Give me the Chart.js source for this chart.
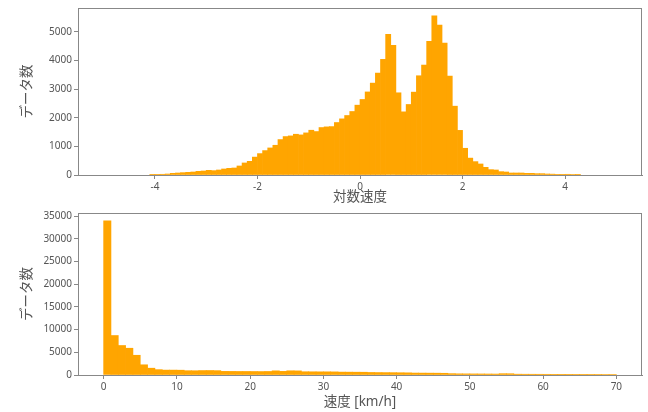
<!DOCTYPE html>
<html>
<head>
<meta charset="utf-8">
<script src="https://cdn.jsdelivr.net/npm/chart.js@4"></script>
<style>
  html, body { margin: 0; padding: 0; background: #fff; }
  #wrap { position: relative; width: 648px; height: 412px; }
  canvas { position: absolute; left: 0; }
</style>
</head>
<body>
<div id="wrap">
  <canvas id="logChart" width="648" height="205" style="top:0"></canvas>
  <canvas id="speedChart" width="648" height="207" style="top:205px"></canvas>
</div>
<script>
// 対数速度ヒストグラム (bin width 0.1, first bin starts at -4.1)
const logBinStart = -4.1;
const logBinWidth = 0.1;
const logCounts = [
  5, 23, 25, 35, 58, 70, 82, 93, 105, 128,
  140, 163, 152, 175, 210, 233, 245, 315, 420, 478,
  625, 747, 852, 945, 1038, 1237, 1342, 1365, 1423, 1400,
  1470, 1563, 1517, 1657, 1680, 1690, 1832, 1960, 2077, 2217,
  2438, 2637, 2900, 3208, 3558, 4037, 4912, 4527, 2870, 2205,
  2462, 2893, 3465, 3838, 4667, 5553, 5238, 4608, 3453, 2403,
  1558, 933, 590, 467, 385, 268, 187, 175, 117, 105,
  70, 70, 70, 58, 58, 47, 47, 35, 30, 12,
  10, 25, 20, 3
];
const logTicksX = [-4, -2, 0, 2, 4];
const logTicksY = [0, 1000, 2000, 3000, 4000, 5000];

// 速度ヒストグラム [km/h] (bin width 1, from 0)
const speedBinStart = 0;
const speedBinWidth = 1;
const speedCounts = [
  34000, 8700, 6500, 5900, 4350, 2250, 1500, 1180, 1080, 1080,
  1060, 950, 940, 980, 990, 960, 800, 790, 780, 780,
  770, 760, 780, 920, 800, 930, 910, 720, 710, 700,
  700, 690, 640, 630, 620, 610, 560, 540, 530, 520,
  500, 480, 430, 420, 410, 400, 380, 300, 260, 250,
  240, 230, 220, 210, 290, 280, 180, 170, 165, 160,
  155, 150, 150, 145, 140, 140, 135, 130, 120, 100
];
const speedTicksX = [0, 10, 20, 30, 40, 50, 60, 70];
const speedTicksY = [0, 5000, 10000, 15000, 20000, 25000, 30000, 35000];

const BAR = '#FFA500';
const SPINE = '#888';
const TEXT = '#555';
const FONT = '"Noto Sans", "Noto Sans CJK JP", sans-serif';

function toPoints(start, width, counts) {
  return counts.map((c, i) => ({ x: +(start + (i + 0.5) * width).toFixed(4), y: c }));
}

const framePlugin = {
  id: 'frame',
  afterDraw(chart) {
    const { ctx, chartArea: a } = chart;
    ctx.save();
    ctx.strokeStyle = SPINE;
    ctx.lineWidth = 1;
    ctx.strokeRect(Math.round(a.left) + 0.5, Math.round(a.top) + 0.5,
      Math.round(a.right - a.left) - 1, Math.round(a.bottom - a.top));
    ctx.restore();
  }
};

function makeHist(id, points, opt) {
  return new Chart(document.getElementById(id), {
    type: 'bar',
    data: {
      datasets: [{
        data: points,
        backgroundColor: BAR,
        borderWidth: 0,
        barPercentage: 1,
        categoryPercentage: 1
      }]
    },
    options: {
      responsive: false,
      animation: false,
      layout: { padding: opt.padding },
      plugins: { legend: { display: false }, tooltip: { enabled: false } },
      scales: {
        x: {
          type: 'linear',
          min: opt.xMin, max: opt.xMax,
          offset: false,
          afterFit: s => { s.height = opt.xHeight; },
          afterBuildTicks: s => { s.ticks = opt.xTicks.map(v => ({ value: v })); },
          grid: { display: true, drawOnChartArea: false, offset: false, color: SPINE, tickLength: 4 },
          border: { color: SPINE },
          ticks: { color: TEXT, padding: 2, maxRotation: 0, autoSkip: false,
                   callback: v => String(v),
                   font: { family: FONT, size: 10 } },
          title: { display: true, text: opt.xTitle, color: TEXT,
                   padding: { top: 0, bottom: opt.xTitlePad },
                   font: { family: FONT, size: 13.5 } }
        },
        y: {
          min: 0, max: opt.yMax,
          afterFit: s => { s.width = 78; },
          afterBuildTicks: s => { s.ticks = opt.yTicks.map(v => ({ value: v })); },
          grid: { display: true, drawOnChartArea: false, color: SPINE, tickLength: 4 },
          border: { color: SPINE },
          ticks: { color: TEXT, padding: 2, autoSkip: false,
                   callback: v => String(v),
                   font: { family: FONT, size: 10 } },
          title: { display: true, text: 'データ数', color: TEXT,
                   padding: { top: 19, bottom: 0 },
                   font: { family: FONT, size: 13.5 } }
        }
      }
    },
    plugins: [framePlugin]
  });
}

makeHist('logChart', toPoints(logBinStart, logBinWidth, logCounts), {
  padding: { top: 8, right: 6, left: 0, bottom: 0 },
  xMin: -5.5, xMax: 5.5, xTicks: logTicksX, xHeight: 30, xTitle: '対数速度', xTitlePad: 0,
  yMax: 5830, yTicks: logTicksY
});

makeHist('speedChart', toPoints(speedBinStart, speedBinWidth, speedCounts), {
  padding: { top: 3, right: 6, left: 0, bottom: 0 },
  xMin: -3.5, xMax: 73.5, xTicks: speedTicksX, xHeight: 37, xTitle: '速度 [km/h]', xTitlePad: 2,
  yMax: 35700, yTicks: speedTicksY
});
</script>
</body>
</html>
